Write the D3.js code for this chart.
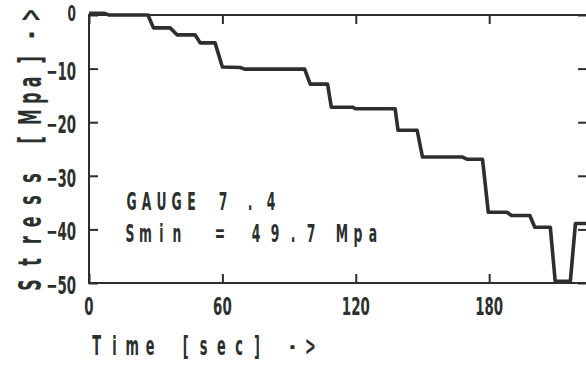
<!DOCTYPE html>
<html><head><meta charset="utf-8">
<script src="https://cdn.jsdelivr.net/npm/d3@7/dist/d3.min.js"></script>
<style>html,body{margin:0;padding:0;background:#fff;}svg{display:block;}</style>
</head><body>
<svg id="chart" width="586" height="368"></svg>
<script>
// ---- data ----
const times  = [0, 7, 9, 26.5, 29, 36.5, 39.6, 47.7, 50, 56.7, 60, 68, 70, 97, 99.5, 107.3, 109, 118.5, 120, 137.7, 139, 147.6, 150, 168, 170, 177, 179.6, 188, 190, 198.3, 200.5, 207.5, 209.7, 216.5, 218.8, 224];
const stress = [0.3, 0.3, 0, 0, -2.4, -2.4, -3.7, -3.7, -5.2, -5.2, -9.7, -9.8, -10.1, -10.1, -12.9, -12.9, -17.2, -17.2, -17.5, -17.5, -21.5, -21.5, -26.5, -26.5, -26.9, -26.9, -36.8, -36.8, -37.4, -37.4, -39.6, -39.6, -49.7, -49.7, -38.9, -38.9];
const xTicks = [0, 60, 120, 180];
const yTicks = [0, -10, -20, -30, -40, -50];
const xTitle = "Time [sec] ->";
const yTitle = "Stress [Mpa] ->";
const note1 = "GAUGE 7.4";
const note2 = "Smin = 49.7 Mpa";

// ---- layout ----
const ink = "#2b2f2d";
const font = "'DejaVu Sans Condensed','DejaVu Sans',sans-serif";
const L = 89, R = 587, T = 15, B = 283;
const svg = d3.select("#chart");
svg.append("rect").attr("width",586).attr("height",368).attr("fill","#fff");

const x = d3.scaleLinear().domain([0, 224]).range([L, R]);
const y = d3.scaleLinear().domain([-50, 0]).range([B, T]);

function spaced(str, pos, base, size, sx, sy, rotate) {
  const t = svg.append("text")
    .text(str)
    .attr("font-family", font).attr("font-weight", "bold")
    .attr("font-size", size).attr("fill", ink)
    .attr("text-anchor", "middle");
  if (!rotate) {
    t.attr("transform", `translate(0,${base}) scale(${sx},${sy})`)
     .attr("x", pos.map(p => (p / sx).toFixed(2)).join(" "))
     .attr("y", 0);
  } else {
    t.attr("transform", `translate(${base},0) rotate(-90) scale(${sx},${sy})`)
     .attr("x", pos.map(p => (-p / sx).toFixed(2)).join(" "))
     .attr("y", 0);
  }
  return t;
}

// frame
svg.append("rect").attr("x", L).attr("y", T).attr("width", R - L).attr("height", B - T)
  .attr("fill", "none").attr("stroke", ink).attr("stroke-width", 2);

// axes (inward ticks)
const tl = 9;
const axB = svg.append("g").attr("transform", `translate(0,${B})`)
  .call(d3.axisBottom(x).tickValues(xTicks).tickSize(-tl).tickFormat(""));
const axT = svg.append("g").attr("transform", `translate(0,${T})`)
  .call(d3.axisTop(x).tickValues(xTicks).tickSize(-tl).tickFormat(""));
const axL = svg.append("g").attr("transform", `translate(${L},0)`)
  .call(d3.axisLeft(y).tickValues(yTicks).tickSize(-tl).tickFormat(""));
const axR = svg.append("g").attr("transform", `translate(${R},0)`)
  .call(d3.axisRight(y).tickValues(yTicks).tickSize(-tl).tickFormat(""));
[axB, axT, axL, axR].forEach(a => {
  a.select(".domain").remove();
  a.selectAll(".tick line").attr("stroke", ink).attr("stroke-width", 2);
});

// tick labels
const tsx = 0.62, tsize = 24;
xTicks.forEach(v => {
  svg.append("text").text(d3.format("d")(v))
    .attr("font-family", font).attr("font-weight", "bold").attr("font-size", tsize)
    .attr("fill", ink).attr("text-anchor", "middle")
    .attr("transform", `translate(${x(v)},315) scale(${tsx},1)`);
});
yTicks.forEach(v => {
  const base = v === 0 ? 21 : y(v) + 11;
  const s = v === 0 ? 0.9 : 1;
  svg.append("text").text(d3.format("d")(v))
    .attr("font-family", font).attr("font-weight", "bold").attr("font-size", tsize * s)
    .attr("fill", ink).attr("text-anchor", "end")
    .attr("transform", `translate(76,${base}) scale(${tsx},1)`);
});

// data line
const pts = times.map((t, i) => [t, stress[i]]);
svg.append("path").datum(pts)
  .attr("fill", "none").attr("stroke", ink).attr("stroke-width", 3.6)
  .attr("stroke-linejoin", "round")
  .attr("d", d3.line().x(d => x(d[0])).y(d => y(d[1])));

// titles
const xPos = Array.from(xTitle, (c, i) => 96.7 + i * 17.8);
spaced(xTitle, xPos, 355, 26, 0.55, 1);
const yPos = [285, 262, 240, 222, 200, 178, 159, 140, 117, 98, 82, 60, 48, 35, 15];
spaced(yTitle, yPos, 41, 32, 0.55, 1.0, true);

// notes
spaced(note1, [131.5, 146.5, 161.5, 176.5, 191.5, 207, 223, 250, 271], 210, 25, 0.55, 1);
spaced(note2, [130, 145.5, 161.5, 177, 198, 220, 238, 256, 275, 293, 311, 326, 342, 358, 373], 242, 25, 0.55, 1);
</script>
</body></html>
